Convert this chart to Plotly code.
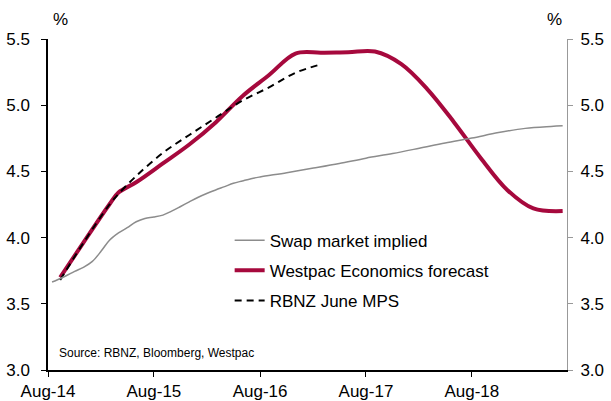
import plotly.graph_objects as go

# ---- data ----
swap_dates = ["2014-08-15", "2014-09-01", "2014-10-01", "2014-11-01", "2014-12-01",
              "2015-01-01", "2015-02-01", "2015-03-01", "2015-04-01", "2015-05-01",
              "2015-06-01", "2015-07-01", "2015-08-01", "2015-09-01", "2015-10-01",
              "2015-11-01", "2015-12-01", "2016-01-01", "2016-02-01", "2016-03-01",
              "2016-04-01", "2016-05-01", "2016-06-01", "2016-07-01", "2016-08-01",
              "2016-11-01", "2017-02-01", "2017-05-01", "2017-08-01", "2017-11-01",
              "2018-02-01", "2018-05-01", "2018-08-01", "2018-11-01", "2019-02-01",
              "2019-05-01", "2019-06-10"]
swap_vals = [3.665, 3.68, 3.71, 3.745, 3.775,
             3.82, 3.90, 3.98, 4.035, 4.075,
             4.12, 4.145, 4.155, 4.17, 4.20,
             4.235, 4.27, 4.305, 4.335, 4.36,
             4.385, 4.41, 4.428, 4.445, 4.458,
             4.49, 4.525, 4.56, 4.60, 4.635,
             4.675, 4.715, 4.752, 4.793, 4.825,
             4.84, 4.845]

westpac_dates = ["2014-09-12", "2014-12-01", "2015-03-01", "2015-04-01", "2015-06-01",
                 "2015-09-01", "2015-12-01", "2016-03-01", "2016-06-01", "2016-09-01",
                 "2016-12-01", "2017-03-01", "2017-06-01", "2017-09-01", "2017-12-01",
                 "2018-03-01", "2018-06-01", "2018-09-01", "2018-12-01", "2019-03-01",
                 "2019-06-10"]
westpac_vals = [3.70, 3.962, 4.252, 4.34, 4.418,
                4.56, 4.703, 4.87, 5.068, 5.228,
                5.39, 5.397, 5.40, 5.405, 5.31,
                5.12, 4.87, 4.60, 4.36, 4.22,
                4.20]

rbnz_dates = ["2014-09-12", "2014-12-01", "2015-03-01", "2015-04-01", "2015-06-01",
              "2015-09-01", "2015-12-01", "2016-03-01", "2016-06-01", "2016-09-01",
              "2016-12-01", "2017-03-01"]
rbnz_vals = [3.68, 3.96, 4.25, 4.33, 4.465,
             4.64, 4.775, 4.905, 5.035, 5.135,
             5.245, 5.31]

tick_dates = ["2014-08-01", "2015-08-01", "2016-08-01", "2017-08-01", "2018-08-01"]
tick_labels = ["Aug-14", "Aug-15", "Aug-16", "Aug-17", "Aug-18"]

FONT = "Liberation Sans, Arial, sans-serif"

fig = go.Figure()
# swap series drawn against the right-hand axis (identical scale) so that axis is rendered
fig.add_trace(go.Scatter(x=swap_dates, y=swap_vals, mode="lines", name="Swap market implied",
                         line=dict(color="#8c8c8c", width=1.5, shape="spline"),
                         legendgroup="a", yaxis="y2"))
fig.add_trace(go.Scatter(x=westpac_dates, y=westpac_vals, mode="lines",
                         name="Westpac Economics forecast",
                         line=dict(color="#A6093D", width=4, shape="spline"),
                         legendgroup="b"))
fig.add_trace(go.Scatter(x=rbnz_dates, y=rbnz_vals, mode="lines", name="RBNZ June MPS",
                         line=dict(color="black", width=2, dash="7px,5px", shape="spline"),
                         legendgroup="c"))

fig.update_layout(
    width=611, height=401,
    margin=dict(l=48, r=44, t=39, b=31, autoexpand=False),
    paper_bgcolor="white", plot_bgcolor="white",
    font=dict(family=FONT, size=17, color="black"),
    showlegend=True,
    legend=dict(x=0.35, y=0.445, xanchor="left", yanchor="top",
                bgcolor="rgba(0,0,0,0)", tracegroupgap=5,
                font=dict(family=FONT, size=17, color="black"),
                itemwidth=30),
    xaxis=dict(type="date", range=["2014-08-01", "2019-06-25"],
               tickvals=tick_dates, ticktext=tick_labels,
               showline=True, linecolor="black", linewidth=1.5,
               ticks="outside", ticklen=5, tickcolor="black",
               showgrid=False, zeroline=False, automargin=False,
               tickfont=dict(family=FONT, size=17)),
    yaxis=dict(range=[3.0, 5.5], dtick=0.5, tickformat=".1f",
               showline=True, linecolor="black", linewidth=1.5,
               ticks="outside", ticklen=5, tickcolor="black",
               showgrid=False, zeroline=False, automargin=False,
               ticklabelstandoff=8,
               tickfont=dict(family=FONT, size=17)),
    yaxis2=dict(range=[3.0, 5.5], dtick=0.5, tickformat=".1f",
                overlaying="y", side="right",
                showline=True, linecolor="#999999", linewidth=1,
                ticks="outside", ticklen=5, tickcolor="#999999",
                showgrid=False, zeroline=False, automargin=False,
                ticklabelstandoff=4,
                tickfont=dict(family=FONT, size=17)),
    annotations=[
        dict(text="%", xref="paper", yref="paper", x=0.025, y=1.0, yshift=8,
             xanchor="center", yanchor="bottom", showarrow=False,
             font=dict(family=FONT, size=17)),
        dict(text="%", xref="paper", yref="paper", x=0.976, y=1.0, yshift=8,
             xanchor="center", yanchor="bottom", showarrow=False,
             font=dict(family=FONT, size=17)),
        dict(text="Source: RBNZ, Bloomberg, Westpac", xref="paper", yref="paper",
             x=0.017, y=0.025, xanchor="left", yanchor="bottom", showarrow=False,
             font=dict(family=FONT, size=12)),
    ],
)

fig.write_html("out.html")
